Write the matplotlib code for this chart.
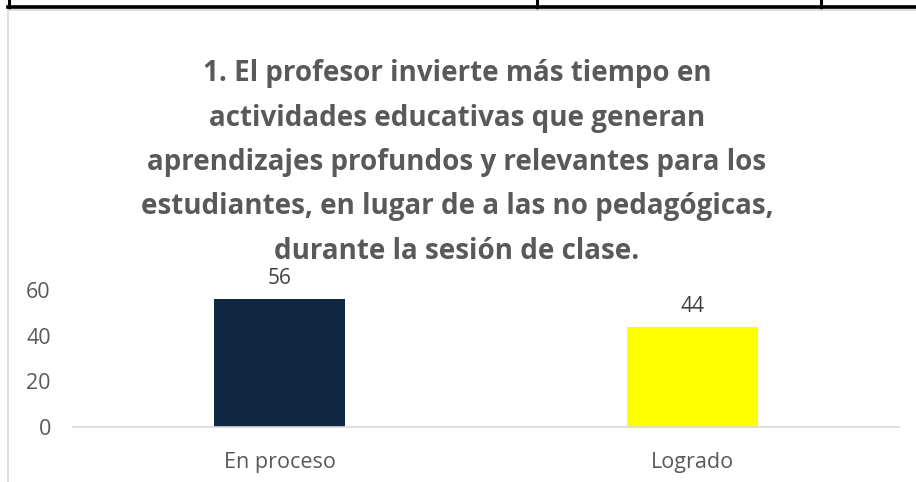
import matplotlib.pyplot as plt
from matplotlib.lines import Line2D

categories = ['En proceso', 'Logrado']
values = [56, 44]
bar_colors = ['#0F2741', '#FFFF00']
y_ticks = [0, 20, 40, 60]

title = ('1. El profesor invierte más tiempo en\n'
         'actividades educativas que generan\n'
         'aprendizajes profundos y relevantes para los\n'
         'estudiantes, en lugar de a las no pedagógicas,\n'
         'durante la sesión de clase.')

W, H = 916, 482
fig = plt.figure(figsize=(W / 100, H / 100), dpi=100)
plt.rcParams['font.family'] = ['Open Sans', 'DejaVu Sans']


def px(x, y):
    return x / W, 1 - y / H


# table border at the top of the page
x0, y0 = px(8, 6.5)
x1, _ = px(916, 6.5)
fig.add_artist(Line2D([x0, x1], [y0, y0], color='black', lw=2.6))
for xv in [8.5, 536.5, 820.5]:
    a, b = px(xv, 0)
    _, c = px(xv, 8)
    fig.add_artist(Line2D([a, a], [b, c], color='black', lw=2.2))

# chart area border (light gray)
a, b = px(8, 9.5)
_, c = px(8, 482)
fig.add_artist(Line2D([a, a], [b, c], color='#d9d9d9', lw=1.2))
a, b = px(8, 9.5)
e, _ = px(916, 9.5)
fig.add_artist(Line2D([a, e], [b, b], color='#d9d9d9', lw=1.2))

ax = fig.add_axes([73 / W, 55 / H, 826 / W, 137 / H])
x = range(len(categories))
bars = ax.bar(x, values, width=0.315, color=bar_colors)
ax.set_xlim(-0.5, 1.5)
ax.set_ylim(0, 60)
ax.set_yticks(y_ticks)
ax.set_xticks(list(x))
ax.set_xticklabels(categories)
ax.tick_params(axis='both', length=0, colors='#595959', labelsize=15.5)
ax.tick_params(axis='y', pad=16)
ax.tick_params(axis='x', pad=18)
for s in ['top', 'right', 'left']:
    ax.spines[s].set_visible(False)
ax.spines['bottom'].set_color('#d9d9d9')
ax.spines['bottom'].set_linewidth(1.2)

for xi, v in zip(x, values):
    ax.annotate(str(v), (xi, v), xytext=(0, 7), textcoords='offset points',
                ha='center', va='bottom', color='#404040', fontsize=15,
                annotation_clip=False)

fig.text(457 / W, 1 - 162.5 / H, title, ha='center', va='center',
         fontsize=20, fontweight='bold', color='#595959', linespacing=1.7)

fig.savefig('out.png', dpi=100)
